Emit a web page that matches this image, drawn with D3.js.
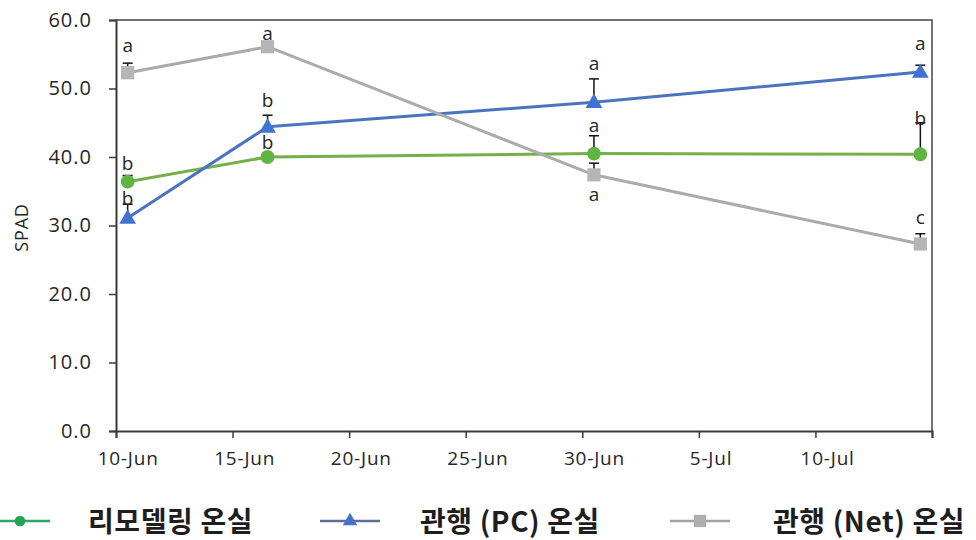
<!DOCTYPE html>
<html>
<head>
<meta charset="utf-8">
<script src="https://cdn.jsdelivr.net/npm/d3@7"></script>
<style>
  html, body { margin: 0; padding: 0; background: #fff; }
  svg { display: block; }
  .tick text { font-family: "Open Sans", "Noto Sans", sans-serif; }
</style>
</head>
<body>
<svg id="chart" width="976" height="540"></svg>
<script>
// Measurement dates and SPAD readings per greenhouse
const dates = ["10-Jun", "16-Jun", "30-Jun", "14-Jul"];
const seriesNames = ["리모델링 온실", "관행 (PC) 온실", "관행 (Net) 온실"];

const remodelSpad = [36.4, 40.0, 40.5, 40.4];
const pcSpad      = [31.1, 44.4, 48.0, 52.4];
const netSpad     = [52.3, 56.1, 37.4, 27.3];

// Standard error (upper bars only)
const remodelErr = [0.9, 0.5, 2.6, 4.6];
const pcErr      = [2.0, 1.7, 3.4, 1.0];
const netErr     = [1.4, 0.3, 1.7, 1.5];

// Significance letters per date
const remodelLetters = ["b", "b", "a", "b"];
const pcLetters      = ["b", "b", "a", "a"];
const netLetters     = ["a", "a", "a", "c"];

const xTickLabels = ["10-Jun", "15-Jun", "20-Jun", "25-Jun", "30-Jun", "5-Jul", "10-Jul"];
const yTickValues = [0, 10, 20, 30, 40, 50, 60];

// ---- layout ----
const svg = d3.select("#chart");
const parse = d3.utcParse("%d-%b");
const HALF_DAY = 12 * 3600 * 1000;

const plotLeft = 116, plotRight = 932, plotTop = 20, plotBottom = 431;

const x = d3.scaleUtc()
  .domain([new Date(+parse(xTickLabels[0]) - HALF_DAY), new Date(+parse(dates[dates.length - 1]) + HALF_DAY)])
  .range([plotLeft, plotRight]);
const y = d3.scaleLinear().domain([0, 60]).range([plotBottom, plotTop]);

const axisColor = "#3a3a3a";
const textColor = "#262626";

// plot frame (top and right edges)
svg.append("path")
  .attr("d", `M${plotLeft},${plotTop}H${plotRight}V${plotBottom}`)
  .attr("fill", "none").attr("stroke", "#444").attr("stroke-width", 1.5);

// y axis
const yAxis = svg.append("g")
  .attr("transform", `translate(${plotLeft},0)`)
  .call(d3.axisLeft(y).tickValues(yTickValues).tickSize(7).tickPadding(17).tickFormat(d3.format(".1f")));
yAxis.select(".domain").attr("stroke", axisColor).attr("stroke-width", 2);
yAxis.selectAll(".tick line").attr("stroke", axisColor).attr("stroke-width", 1.5);
yAxis.selectAll(".tick text").attr("font-size", 20).attr("letter-spacing", 1).attr("fill", textColor);

// x axis: tick marks on day boundaries, labels centred on the dates
const boundaryTicks = d3.range(xTickLabels.length + 1).map(i =>
  new Date(+parse(xTickLabels[0]) - HALF_DAY + i * 5 * 24 * 3600 * 1000));
const xAxisTicks = svg.append("g")
  .attr("transform", `translate(0,${plotBottom})`)
  .call(d3.axisBottom(x).tickValues(boundaryTicks).tickSize(7).tickFormat(""));
xAxisTicks.select(".domain").attr("stroke", axisColor).attr("stroke-width", 2);
xAxisTicks.selectAll(".tick line").attr("stroke", axisColor).attr("stroke-width", 1.5);

const xAxisLabels = svg.append("g")
  .attr("transform", `translate(0,${plotBottom})`)
  .call(d3.axisBottom(x).tickValues(xTickLabels.map(parse)).tickSize(0).tickPadding(21)
    .tickFormat((d, i) => xTickLabels[i]));
xAxisLabels.select(".domain").remove();
xAxisLabels.selectAll(".tick text").attr("font-size", 19).attr("letter-spacing", 0.8).attr("fill", textColor);

// y axis title
svg.append("text")
  .attr("transform", `translate(28,${(plotTop + plotBottom) / 2 + 2}) rotate(-90)`)
  .attr("text-anchor", "middle")
  .attr("font-family", "Open Sans, sans-serif")
  .attr("font-size", 18)
  .attr("letter-spacing", 0.8)
  .attr("fill", textColor)
  .text("SPAD");

// ---- series ----
const series = [
  { name: seriesNames[0], values: remodelSpad, err: remodelErr, letters: remodelLetters,
    line: "#74b04a", fill: "#5fb443", marker: "circle",
    letterGap: [-12, -12, -11, -5] },
  { name: seriesNames[1], values: pcSpad, err: pcErr, letters: pcLetters,
    line: "#4a74c0", fill: "#3f72d2", marker: "triangle",
    letterGap: [-6, -15, -16, -22] },
  { name: seriesNames[2], values: netSpad, err: netErr, letters: netLetters,
    line: "#ababab", fill: "#b5b5b5", marker: "square",
    letterGap: [-18, -12, 19, -17] }
];

const symbolOf = {
  circle: d3.symbol().type(d3.symbolCircle).size(150),
  triangle: d3.symbol().type(d3.symbolTriangle).size(120),
  square: d3.symbol().type(d3.symbolSquare).size(175)
};

const line = d3.line().x(d => x(d.date)).y(d => y(d.v));

series.forEach(s => {
  const pts = s.values.map((v, i) => ({ date: parse(dates[i]), v, e: s.err[i], letter: s.letters[i], gap: s.letterGap[i] }));
  const g = svg.append("g");

  g.append("path").datum(pts)
    .attr("d", line)
    .attr("fill", "none")
    .attr("stroke", s.line)
    .attr("stroke-width", 3)
    .attr("stroke-linejoin", "round");

  // upper error bars
  const eb = g.selectAll(".err").data(pts).join("g").attr("class", "err");
  eb.append("line")
    .attr("x1", d => x(d.date)).attr("x2", d => x(d.date))
    .attr("y1", d => y(d.v)).attr("y2", d => y(d.v + d.e))
    .attr("stroke", "#111").attr("stroke-width", 1.5);
  eb.append("line")
    .attr("x1", d => x(d.date) - 5).attr("x2", d => x(d.date) + 5)
    .attr("y1", d => y(d.v + d.e)).attr("y2", d => y(d.v + d.e))
    .attr("stroke", "#111").attr("stroke-width", 1.5);

  g.selectAll(".mk").data(pts).join("path")
    .attr("class", "mk")
    .attr("transform", d => `translate(${x(d.date)},${y(d.v) + (s.marker === "triangle" ? 1 : 0)})`)
    .attr("d", symbolOf[s.marker])
    .attr("fill", s.fill);

  // significance letters
  g.selectAll(".lt").data(pts).join("text")
    .attr("class", "lt")
    .attr("x", d => x(d.date))
    .attr("y", d => (d.gap < 0 ? y(d.v + d.e) : y(d.v)) + d.gap)
    .attr("text-anchor", "middle")
    .attr("dominant-baseline", "central")
    .attr("font-family", "Open Sans, sans-serif")
    .attr("font-size", 19)
    .attr("fill", textColor)
    .text(d => d.letter);
});

// ---- legend ----
const legendY = 520;
const legendItems = [
  { x: -10, line: "#2fa860", fill: "#25a552", marker: "circle" },
  { x: 320, line: "#5d6f92", fill: "#4472c4", marker: "triangle" },
  { x: 670, line: "#a3a3a3", fill: "#afafaf", marker: "square" }
];
const legendTextGap = [98, 100, 103];
const legendSymbol = {
  circle: d3.symbol().type(d3.symbolCircle).size(90),
  triangle: d3.symbol().type(d3.symbolTriangle).size(90),
  square: d3.symbol().type(d3.symbolSquare).size(150)
};
const lg = svg.append("g").selectAll("g").data(legendItems).join("g")
  .attr("transform", d => `translate(${d.x},${legendY})`);
lg.append("line").attr("x1", 0).attr("x2", 60).attr("y1", 1).attr("y2", 1)
  .attr("stroke", d => d.line).attr("stroke-width", 2.5);
lg.append("path").attr("transform", "translate(30,1)")
  .attr("d", d => legendSymbol[d.marker]())
  .attr("fill", d => d.fill);
lg.append("text")
  .attr("x", (d, i) => legendTextGap[i]).attr("y", 0)
  .attr("dominant-baseline", "central")
  .attr("font-family", "Noto Sans CJK KR, sans-serif")
  .attr("font-weight", "bold")
  .attr("font-size", 28)
  .attr("letter-spacing", 0.6)
  .attr("fill", "#1e1e1e")
  .text((d, i) => seriesNames[i]);
</script>
</body>
</html>
